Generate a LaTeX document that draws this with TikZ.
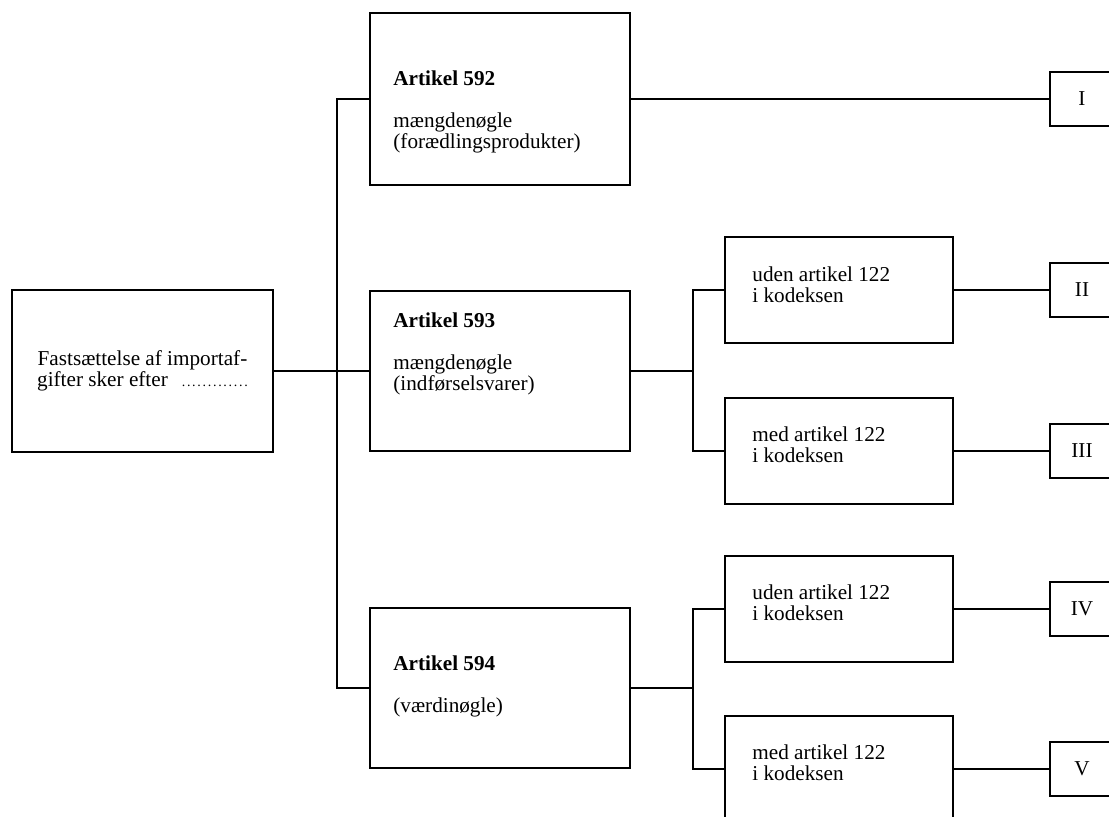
\documentclass[tikz,border=0pt]{standalone}
\usepackage{fontspec}
\setmainfont{Liberation Serif}

\newcommand{\leaderdots}{{\scriptsize\makebox[33pt][s]{.\hfill.\hfill.\hfill.\hfill.\hfill.\hfill.\hfill.\hfill.\hfill.\hfill.\hfill.\hfill.}}}

\begin{document}
\begin{tikzpicture}[
  x=0.5pt, y=-0.5pt,
  every node/.style={font=\fontsize{10.6pt}{10.3pt}\selectfont},
  box/.style={draw, line width=1.2pt, inner sep=0pt},
  artbox/.style={box, minimum width=130pt, minimum height=80pt},
  subbox/.style={box, minimum width=114pt, minimum height=53pt},
  numbox/.style={box, minimum width=32pt, minimum height=27pt},
  txt/.style={anchor=base west, align=left, inner sep=0pt},
  link/.style={line width=1.2pt},
]

%% frame of the page
\useasboundingbox (0,0) rectangle (1109,816);
\clip (0,0) rectangle (1109,816);

%% COLUMN 0 — starting box
\node[box, minimum width=130.5pt, minimum height=81pt, align=center] (start)
  at (142.5,371)
  {Fastsættelse af importaf-\\gifter sker efter\hspace{7pt}\leaderdots};

%% COLUMN 1 — Artikel 592 / 593 / 594
\node[artbox, minimum height=86pt] (a592) at (500,99) {};
\node[artbox] (a593) at (500,371) {};
\node[artbox] (a594) at (500,688) {};

%% (base of a two-line text = its last line)
\node[txt] (h592) at (393,85)  {\textbf{Artikel 592}};
\node[txt] (k592) at (393,148) {mængdenøgle\\(forædlingsprodukter)};
\node[txt] (h593) at (393,327) {\textbf{Artikel 593}};
\node[txt] (k593) at (393,390) {mængdenøgle\\(indførselsvarer)};
\node[txt] (h594) at (393,670) {\textbf{Artikel 594}};
\node[txt] (k594) at (393,712) {(værdinøgle)};

%% trunk from the starting box
\coordinate (trunk) at (337,371);
\draw[link] (a592.west) -| (trunk) |- (a594.west);
\draw[link] (start.east) -- (a593.west);

%% COLUMN 2 — with / without Artikel 122
\node[subbox] (u593) at (839,290) {};
\node[subbox] (m593) at (839,451) {};
\node[subbox] (u594) at (839,609) {};
\node[subbox] (m594) at (839,769) {};

\node[txt] (tu593) at (752,302) {uden artikel 122\\i kodeksen};
\node[txt] (tm593) at (752,462) {med artikel 122\\i kodeksen};
\node[txt] (tu594) at (752,620) {uden artikel 122\\i kodeksen};
\node[txt] (tm594) at (752,780) {med artikel 122\\i kodeksen};

%% forks
\coordinate (f593) at (693,371);
\coordinate (f594) at (693,688);
\draw[link] (a593.east) -- (f593);
\draw[link] (u593.west) -| (f593) |- (m593.west);
\draw[link] (a594.east) -- (f594);
\draw[link] (u594.west) -| (f594) |- (m594.west);

%% COLUMN 3 — cases I to V
\node[numbox] (r1) at (1082,99)  {I};
\node[numbox] (r2) at (1082,290) {II};
\node[numbox] (r3) at (1082,451) {III};
\node[numbox] (r4) at (1082,609) {IV};
\node[numbox] (r5) at (1082,769) {V};

\draw[link] (a592.east) -- (r1.west);
\draw[link] (u593.east) -- (r2.west);
\draw[link] (m593.east) -- (r3.west);
\draw[link] (u594.east) -- (r4.west);
\draw[link] (m594.east) -- (r5.west);

\end{tikzpicture}
\end{document}
